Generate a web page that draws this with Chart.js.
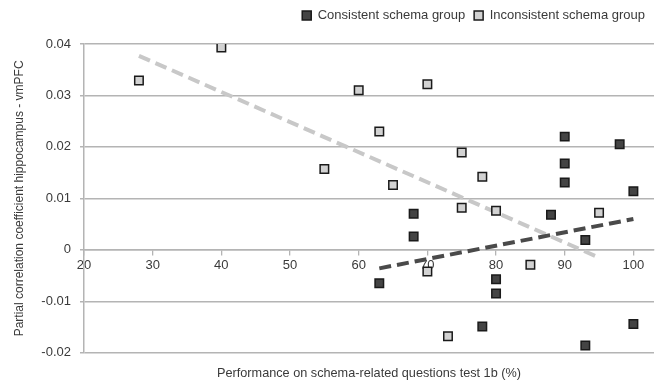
<!DOCTYPE html>
<html><head><meta charset="utf-8">
<script src="https://cdn.jsdelivr.net/npm/chart.js@4"></script>
<style>html,body{margin:0;padding:0;background:#fff}#wrap{width:666px;height:383px}</style>
</head><body><div id="wrap"><canvas id="c"></canvas></div>
<script>
const xTicks = [20, 30, 40, 50, 60, 70, 80, 90, 100];
const yTicks = [-0.02, -0.01, 0, 0.01, 0.02, 0.03, 0.04];
const yTickLabels = ['-0.02', '-0.01', '0', '0.01', '0.02', '0.03', '0.04'];

const consistentX = [90, 98, 90, 90, 100, 68, 68, 88, 93, 63, 80, 80, 78, 93, 100];
const consistentY = [0.022, 0.0205, 0.0168, 0.0131, 0.0114, 0.0070, 0.0026, 0.0068, 0.0019, -0.0065, -0.0057, -0.0085, -0.0149, -0.0186, -0.0144];

const inconsistentX = [28, 40, 55, 60, 70, 63, 65, 75, 78, 75, 80, 95, 70, 85, 73];
const inconsistentY = [0.0329, 0.0393, 0.0157, 0.031, 0.0322, 0.023, 0.0126, 0.0189, 0.0142, 0.0082, 0.0076, 0.0072, -0.0042, -0.0029, -0.0168];

const trendConsistentX = [63, 100];
const trendConsistentY = [-0.0036, 0.006];
const trendInconsistentX = [28, 95];
const trendInconsistentY = [0.0377, -0.0015];

const pts = (xs, ys) => xs.map((x, i) => ({x, y: ys[i]}));
const FONT = "'Liberation Sans', Arial, sans-serif";
const TXT = '#3a3a3a';
const GRID = '#b4b4b4';

new Chart(document.getElementById('c'), {
  type: 'scatter',
  data: {
    datasets: [
      {label: 'Consistent schema group', data: pts(consistentX, consistentY),
       pointStyle: 'rect', pointRadius: 6, pointHoverRadius: 6,
       backgroundColor: '#444444', borderColor: '#1a1a1a', borderWidth: 1.5, order: 1},
      {label: 'Inconsistent schema group', data: pts(inconsistentX, inconsistentY),
       pointStyle: 'rect', pointRadius: 6, pointHoverRadius: 6,
       backgroundColor: '#d2d2d2', borderColor: '#1a1a1a', borderWidth: 1.5, order: 1},
      {label: 'trendC', type: 'line', data: pts(trendConsistentX, trendConsistentY),
       borderColor: '#4a4a4a', borderWidth: 4, borderDash: [12, 6], pointRadius: 0, fill: false, order: 2},
      {label: 'trendI', type: 'line', data: pts(trendInconsistentX, trendInconsistentY),
       borderColor: '#c8c8c8', borderWidth: 4, borderDash: [12, 6], pointRadius: 0, fill: false, order: 2}
    ]
  },
  options: {
    responsive: true, maintainAspectRatio: false, animation: false,
    layout: {padding: {left: 8, right: 12, top: 0, bottom: 0}},
    plugins: {
      tooltip: {enabled: false},
      legend: {
        position: 'top', align: 'end',
        labels: {
          filter: (item) => item.datasetIndex < 2,
          boxWidth: 9, boxHeight: 9, color: TXT, padding: 9,
          font: {family: FONT, size: 13}
        }
      },
      title: {display: false}
    },
    scales: {
      x: {
        type: 'linear', position: {y: 0}, min: 20, max: 103,
        afterBuildTicks: (s) => { s.ticks = xTicks.map(v => ({value: v})); },
        grid: {display: true, drawOnChartArea: false, color: GRID, lineWidth: 1.3, tickLength: 5},
        border: {display: true, color: GRID, width: 1.5},
        ticks: {color: TXT, font: {family: FONT, size: 13}, padding: 3, maxRotation: 0, autoSkip: false}
      },
      xTop: {
        type: 'linear', position: 'top', min: 20, max: 103,
        grid: {display: false}, border: {display: false}, ticks: {display: false},
        afterFit: (s) => { s.height = 12; }
      },
      xBottom: {
        type: 'linear', position: 'bottom', min: 20, max: 103,
        grid: {display: false}, border: {display: false}, ticks: {display: false},
        title: {display: true, text: 'Performance on schema-related questions test 1b (%)',
                color: TXT, font: {family: FONT, size: 12.7}, padding: {top: 5, bottom: 2}}
      },
      y: {
        type: 'linear', min: -0.02, max: 0.04,
        afterBuildTicks: (s) => { s.ticks = yTicks.map(v => ({value: v})); },
        afterFit: (s) => { s.width = 76; },
        grid: {color: GRID, lineWidth: 1.5, tickLength: 4},
        border: {display: true, color: GRID, width: 1.5},
        ticks: {color: TXT, font: {family: FONT, size: 13}, padding: 9,
                callback: (v) => { const i = yTicks.findIndex(t => Math.abs(t - v) < 1e-9); return i >= 0 ? yTickLabels[i] : ''; }},
        title: {display: true, text: 'Partial correlation coefficient hippocampus - vmPFC',
                color: TXT, font: {family: FONT, size: 12}, padding: {top: 4, bottom: 4}}
      }
    }
  }
});
</script>
</body></html>
